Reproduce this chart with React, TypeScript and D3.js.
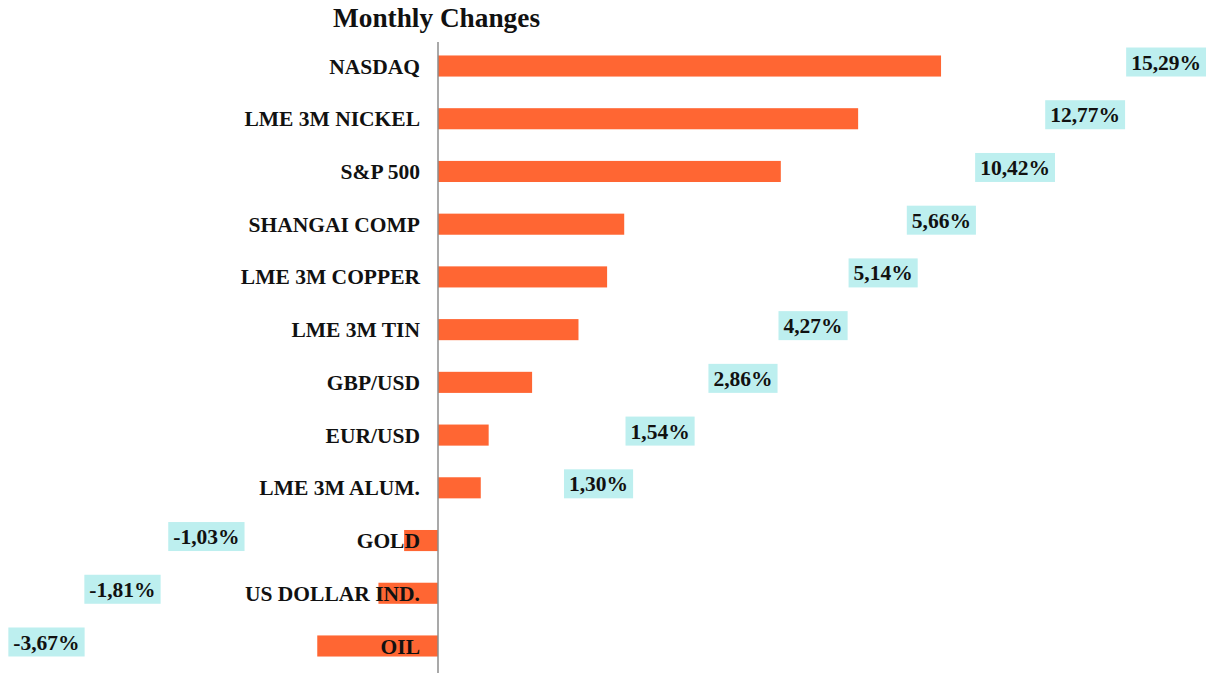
import React from "react";
import * as d3 from "d3";

const categories = [
  "NASDAQ",
  "LME 3M NICKEL",
  "S&P 500",
  "SHANGAI COMP",
  "LME 3M COPPER",
  "LME 3M TIN",
  "GBP/USD",
  "EUR/USD",
  "LME 3M ALUM.",
  "GOLD",
  "US DOLLAR IND.",
  "OIL",
];
const values = [15.29, 12.77, 10.42, 5.66, 5.14, 4.27, 2.86, 1.54, 1.3, -1.03, -1.81, -3.67];
// data-label anchor positions (in % units) as placed in the source chart
const labelAt = [22.13, 19.67, 17.54, 15.3, 13.53, 11.4, 9.27, 6.75, 4.88, -7.04, -9.59, -11.9];
const title = "Monthly Changes";

const fmt = (v: number) => v.toFixed(2).replace(".", ",") + "%";
const charW = (ch: string) =>
  ch === "%" ? 1.0 : ch === "," ? 0.25 : ch === "-" ? 0.333 : 0.5;

export default function App() {
  const W = 1216;
  const H = 673;
  const x = d3.scaleLinear().domain([-4, 16]).range([438 - 4 * 32.9, 438 + 16 * 32.9]);
  const y = d3
    .scaleBand<string>()
    .domain(categories)
    .range([39.65, 672.35])
    .paddingInner(0.6)
    .paddingOuter(0.3);
  const bw = y.bandwidth();
  const font = "'Liberation Serif', 'Times New Roman', serif";
  const fs = 21.5;

  return (
    <svg
      width={W}
      height={H}
      style={{ position: "absolute", left: 0, top: 0, background: "#fff" }}
      fontFamily={font}
    >
      <text x={436.5} y={27} textAnchor="middle" fontSize={27.3} fontWeight="bold" fill="#111">
        {title}
      </text>
      {categories.map((c, i) => {
        const v = values[i];
        const y0 = y(c)!;
        return (
          <rect
            key={"b" + c}
            x={Math.min(x(0), x(v))}
            y={y0}
            width={Math.abs(x(v) - x(0))}
            height={bw}
            fill="#FF6633"
          />
        );
      })}
      <line x1={x(0)} x2={x(0)} y1={42} y2={H} stroke="#8c8c8c" strokeWidth={1.5} />
      {categories.map((c) => {
        const cy = y(c)! + bw / 2;
        return (
          <text
            key={"l" + c}
            x={420}
            y={cy}
            dy="0.35em"
            textAnchor="end"
            fontSize={fs}
            fontWeight="bold"
            fill="#111"
          >
            {c}
          </text>
        );
      })}
      {categories.map((c, i) => {
        const cy = y(c)! + bw / 2 - 4;
        const cx = x(labelAt[i]);
        const t = fmt(values[i]);
        const tw = t.split("").reduce((s, ch) => s + charW(ch), 0) * fs;
        const bwid = tw + 10;
        return (
          <g key={"v" + c}>
            <rect x={cx - bwid / 2} y={cy - 14.5} width={bwid} height={29} fill="#BDEFEF" />
            <text
              x={cx}
              y={cy}
              dy="0.35em"
              textAnchor="middle"
              fontSize={fs}
              fontWeight="bold"
              fill="#111"
            >
              {t}
            </text>
          </g>
        );
      })}
    </svg>
  );
}
